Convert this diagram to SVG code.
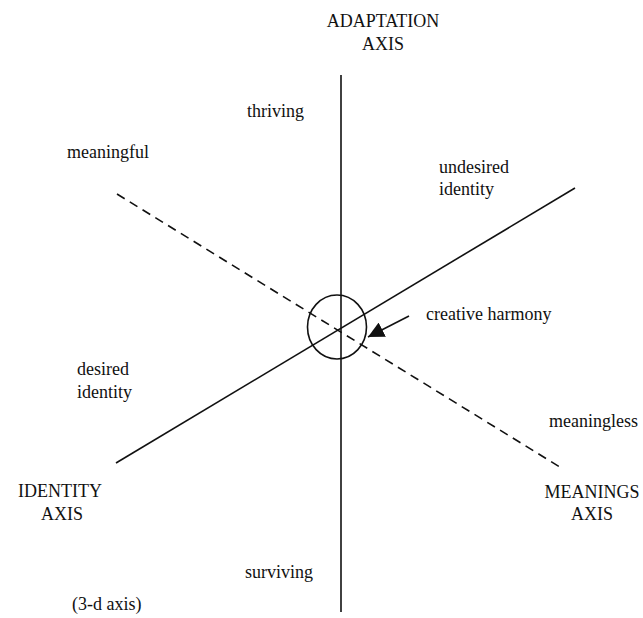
<svg xmlns="http://www.w3.org/2000/svg" width="643" height="618" viewBox="0 0 643 618">
<style>
text{font-family:"Liberation Serif","Times New Roman",serif;font-size:18px;fill:#111}
.ax{stroke:#111;stroke-width:1.6;fill:none}
.dash{stroke-dasharray:9 6}
.mid{text-anchor:middle}
</style>
<defs>
<marker id="ah" viewBox="0 0 10 10" refX="10" refY="5" markerWidth="16" markerHeight="16" markerUnits="userSpaceOnUse" orient="auto">
<path d="M0,0 L10,5 L0,10 Z" fill="#111"/>
</marker>
</defs>
<rect width="643" height="618" fill="#fff"/>
<g id="connectors">
<line id="adaptation-axis" class="ax" x1="341" y1="75" x2="341" y2="612"/>
<line id="identity-axis" class="ax" x1="116" y1="463" x2="575" y2="188"/>
<line id="meanings-axis" class="ax dash" x1="117" y1="194" x2="563" y2="469"/>
<line id="harmony-arrow" class="ax" x1="409" y1="316" x2="368" y2="337" marker-end="url(#ah)"/>
</g>
<g id="center-circle"><ellipse class="ax" cx="337" cy="327" rx="29.5" ry="32"/></g>
<g id="adaptation-label"><text class="mid" x="383" y="27">ADAPTATION</text><text class="mid" x="383" y="50">AXIS</text></g>
<g id="identity-label"><text class="mid" x="60" y="497">IDENTITY</text><text class="mid" x="62" y="520">AXIS</text></g>
<g id="meanings-label"><text class="mid" x="592" y="498">MEANINGS</text><text class="mid" x="592" y="520">AXIS</text></g>
<g id="thriving"><text x="247" y="117">thriving</text></g>
<g id="meaningful"><text x="67" y="158">meaningful</text></g>
<g id="undesired-identity"><text x="439" y="173">undesired</text><text x="439" y="195">identity</text></g>
<g id="creative-harmony"><text x="426" y="320">creative harmony</text></g>
<g id="desired-identity"><text x="77" y="375">desired</text><text x="77" y="398">identity</text></g>
<g id="meaningless"><text x="549" y="427">meaningless</text></g>
<g id="surviving"><text x="245" y="578">surviving</text></g>
<g id="note"><text x="72" y="610">(3-d axis)</text></g>
</svg>
